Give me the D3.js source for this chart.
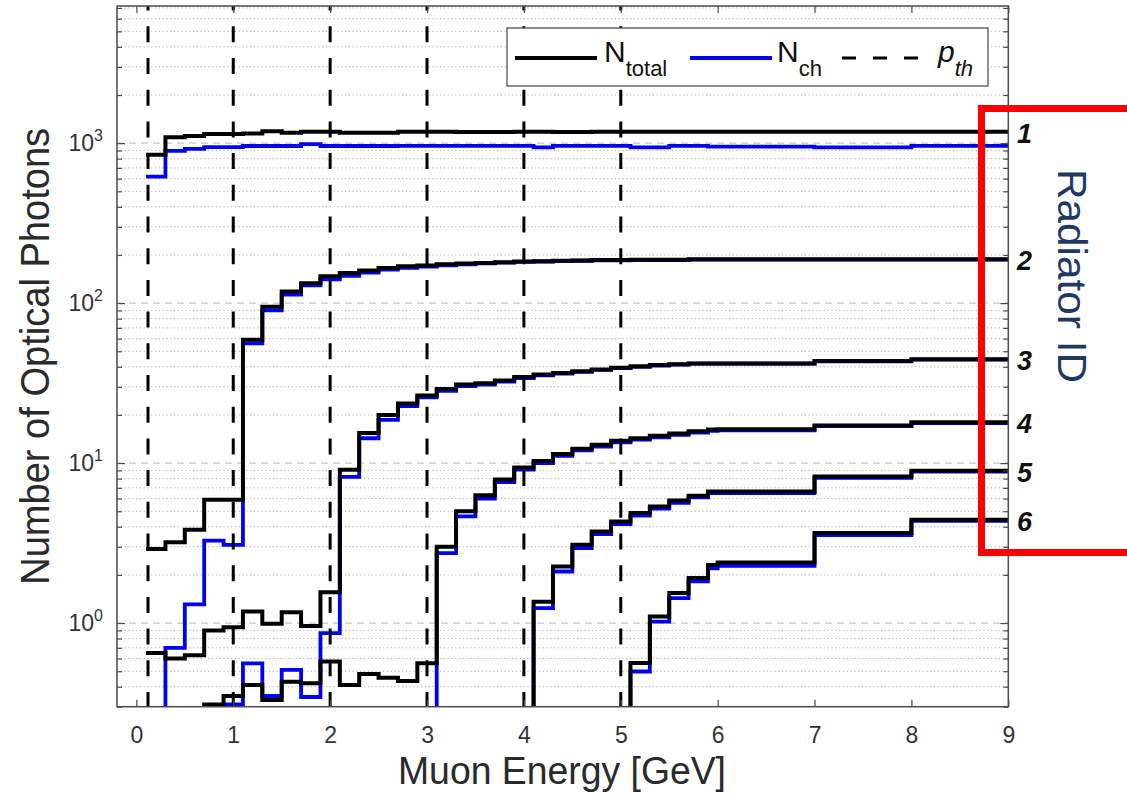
<!DOCTYPE html>
<html>
<head>
<meta charset="utf-8">
<script src="https://cdn.jsdelivr.net/npm/d3@7"></script>
<style>
  html, body { margin: 0; padding: 0; background: #fff; }
  svg { display: block; }
  text { font-family: "Liberation Sans", Arial, Helvetica, sans-serif; }
</style>
</head>
<body>
<svg id="chart" width="1127" height="802"></svg>
<script>
// Bin edges of the muon-energy scan [GeV]; each value holds from its edge to the next one.
const energyEdges = [0.1, 0.3, 0.5, 0.7, 0.9, 1.1, 1.3, 1.5, 1.7, 1.9, 2.1, 2.3, 2.5, 2.7, 2.9,
  3.1, 3.3, 3.5, 3.7, 3.9, 4.1, 4.3, 4.5, 4.7, 4.9, 5.1, 5.3, 5.5, 5.7, 5.9, 6, 7, 8, 9];

// Total optical photons per radiator (values below 0.3 sit under the axis).
const totalR1 = [845, 1090, 1110, 1140, 1140, 1150, 1185, 1160, 1180, 1180, 1160, 1160, 1160, 1180, 1180, 1180,
  1175, 1175, 1175, 1180, 1180, 1175, 1175, 1180, 1180, 1180, 1180, 1180, 1180, 1180, 1180, 1180, 1180];
const totalR2 = [2.9, 3.2, 3.83, 5.9, 5.9, 59, 95, 118, 133, 147, 154, 160, 166, 170, 172, 175,
  177, 178, 180, 182, 183, 184, 185, 186, 186, 187, 187, 187, 188, 188, 188, 188, 188];
const totalR3 = [0.65, 0.60, 0.63, 0.90, 0.94, 1.18, 0.99, 1.17, 0.96, 1.56, 9.1, 15.4, 20.0, 23.6, 26.5, 29.0,
  31.0, 31.5, 32.8, 34.5, 35.8, 36.6, 37.5, 38.5, 39.5, 40.3, 41.0, 41.5, 42.0, 42.0, 42.0, 43.5, 44.5];
const totalR4 = [0.2, 0.2, 0.2, 0.31, 0.35, 0.41, 0.33, 0.43, 0.42, 0.575, 0.41, 0.48, 0.455, 0.435, 0.56, 3.0,
  5.0, 6.3, 7.9, 9.4, 10.3, 11.4, 12.3, 13.0, 13.8, 14.3, 14.8, 15.3, 15.8, 16.2, 16.3, 17.2, 18.0];
const totalR5 = [0.2, 0.2, 0.2, 0.2, 0.2, 0.2, 0.2, 0.2, 0.2, 0.2, 0.2, 0.2, 0.2, 0.2, 0.2, 0.2,
  0.2, 0.2, 0.2, 0.2, 1.36, 2.26, 3.09, 3.74, 4.31, 4.87, 5.35, 5.83, 6.24, 6.64, 6.64, 8.25, 8.97];
const totalR6 = [0.2, 0.2, 0.2, 0.2, 0.2, 0.2, 0.2, 0.2, 0.2, 0.2, 0.2, 0.2, 0.2, 0.2, 0.2, 0.2,
  0.2, 0.2, 0.2, 0.2, 0.2, 0.2, 0.2, 0.2, 0.2, 0.562, 1.1, 1.54, 1.91, 2.31, 2.39, 3.65, 4.42];

// Cherenkov photons per radiator.
const chR1 = [618, 896, 920, 944, 944, 960, 960, 960, 985, 960, 960, 960, 960, 962, 962, 962,
  962, 962, 962, 962, 940, 962, 962, 962, 962, 940, 940, 962, 962, 950, 950, 940, 962];
const chR2 = [0.2, 0.70, 1.31, 3.28, 3.08, 56, 90, 113, 129, 141, 148, 155, 162, 166, 169, 172,
  175, 177, 179, 181, 182, 183, 184, 185, 185, 186, 186, 186, 187, 187, 187, 187, 187];
const chR3 = [0.2, 0.2, 0.2, 0.2, 0.31, 0.56, 0.35, 0.51, 0.345, 0.866, 8.2, 14.3, 18.6, 22.7, 25.8, 28.3,
  30.3, 31.0, 32.3, 34.0, 35.3, 36.2, 37.2, 38.2, 39.2, 40.0, 40.7, 41.2, 41.8, 41.8, 41.8, 43.3, 44.3];
const chR4 = [0.2, 0.2, 0.2, 0.2, 0.2, 0.2, 0.2, 0.2, 0.2, 0.2, 0.2, 0.2, 0.2, 0.2, 0.2, 2.74,
  4.64, 6.0, 7.6, 9.1, 10.0, 11.1, 12.0, 12.7, 13.5, 14.0, 14.5, 15.0, 15.5, 15.9, 16.0, 17.0, 17.8];
const chR5 = [0.2, 0.2, 0.2, 0.2, 0.2, 0.2, 0.2, 0.2, 0.2, 0.2, 0.2, 0.2, 0.2, 0.2, 0.2, 0.2,
  0.2, 0.2, 0.2, 0.2, 1.24, 2.1, 2.94, 3.6, 4.15, 4.7, 5.2, 5.65, 6.1, 6.5, 6.5, 8.1, 8.85];
const chR6 = [0.2, 0.2, 0.2, 0.2, 0.2, 0.2, 0.2, 0.2, 0.2, 0.2, 0.2, 0.2, 0.2, 0.2, 0.2, 0.2,
  0.2, 0.2, 0.2, 0.2, 0.2, 0.2, 0.2, 0.2, 0.2, 0.498, 1.02, 1.43, 1.82, 2.2, 2.28, 3.55, 4.35];

// Momentum thresholds of the six radiators [GeV].
const thresholds = [0.12, 1.0, 2.0, 3.0, 4.0, 5.0];
const radiatorIds = ["1", "2", "3", "4", "5", "6"];

const xTicks = [0, 1, 2, 3, 4, 5, 6, 7, 8, 9];
const yMajorTicks = [1, 10, 100, 1000];
const yMajorExponents = ["0", "1", "2", "3"];

const totals = [totalR1, totalR2, totalR3, totalR4, totalR5, totalR6];
const chs = [chR1, chR2, chR3, chR4, chR5, chR6];

const svg = d3.select("#chart");
const plot = { left: 117, right: 1008.3, top: 6, bottom: 706.7 };

const x = d3.scaleLinear().domain([-0.2, 9]).range([plot.left, plot.right]);
const y = d3.scaleLog().domain([0.3, 7200]).range([plot.bottom, plot.top]);

// minor decade ticks inside the y domain
const yMinorTicks = [];
[0.1, 1, 10, 100, 1000].forEach(d => {
  for (let k = 2; k <= 9; k++) {
    const v = d * k;
    if (v >= 0.3 && v <= 7200) yMinorTicks.push(v);
  }
});

svg.append("defs").append("clipPath").attr("id", "plotClip")
  .append("rect")
  .attr("x", plot.left).attr("y", plot.top)
  .attr("width", plot.right - plot.left).attr("height", plot.bottom - plot.top);

// grid
const grid = svg.append("g");
grid.selectAll("line.minor").data(yMinorTicks).join("line")
  .attr("class", "minor")
  .attr("x1", plot.left).attr("x2", plot.right)
  .attr("y1", d => y(d)).attr("y2", d => y(d))
  .attr("stroke", "#b0b0b0").attr("stroke-width", 1)
  .attr("stroke-dasharray", "1.2,2.6");
grid.selectAll("line.major").data(yMajorTicks).join("line")
  .attr("class", "major")
  .attr("x1", plot.left).attr("x2", plot.right)
  .attr("y1", d => y(d)).attr("y2", d => y(d))
  .attr("stroke", "#c6c6c6").attr("stroke-width", 1.2)
  .attr("stroke-dasharray", "7,5");

// step curves
const stepLine = d3.line()
  .x(d => x(d[0]))
  .y(d => y(d[1]))
  .curve(d3.curveStepAfter);

function stepPoints(vals) {
  return energyEdges.map((e, i) => [e, vals[Math.min(i, vals.length - 1)]]);
}

const curves = svg.append("g").attr("clip-path", "url(#plotClip)");
curves.selectAll("path.ch").data(chs).join("path")
  .attr("class", "ch")
  .attr("d", d => stepLine(stepPoints(d)))
  .attr("fill", "none").attr("stroke", "#0000f5").attr("stroke-width", 3.8)
  .attr("stroke-linejoin", "miter");
curves.selectAll("path.total").data(totals).join("path")
  .attr("class", "total")
  .attr("d", d => stepLine(stepPoints(d)))
  .attr("fill", "none").attr("stroke", "#000").attr("stroke-width", 4)
  .attr("stroke-linejoin", "miter");

// threshold markers
curves.selectAll("line.pth").data(thresholds).join("line")
  .attr("class", "pth")
  .attr("x1", d => x(d)).attr("x2", d => x(d))
  .attr("y1", plot.top).attr("y2", plot.bottom)
  .attr("stroke", "#000").attr("stroke-width", 3)
  .attr("stroke-dasharray", "16,15.7")
  .attr("stroke-dashoffset", 11.4);

// axes: inward ticks on all four sides
const axisColor = "#4a4a4a";
const xBottom = svg.append("g").attr("transform", `translate(0,${plot.bottom})`)
  .call(d3.axisBottom(x).tickValues(xTicks).tickSizeInner(-7).tickSizeOuter(0)
    .tickPadding(19.5).tickFormat(d3.format("d")));
const xTop = svg.append("g").attr("transform", `translate(0,${plot.top})`)
  .call(d3.axisTop(x).tickValues(xTicks).tickSizeInner(-7).tickSizeOuter(0).tickFormat(""));
const yLeft = svg.append("g").attr("transform", `translate(${plot.left},0)`)
  .call(d3.axisLeft(y).tickValues(yMajorTicks).tickSizeInner(-8).tickSizeOuter(0).tickFormat(""));
const yLeftMinor = svg.append("g").attr("transform", `translate(${plot.left},0)`)
  .call(d3.axisLeft(y).tickValues(yMinorTicks).tickSizeInner(-5).tickSizeOuter(0).tickFormat(""));
const yRight = svg.append("g").attr("transform", `translate(${plot.right},0)`)
  .call(d3.axisRight(y).tickValues(yMajorTicks).tickSizeInner(-8).tickSizeOuter(0).tickFormat(""));
const yRightMinor = svg.append("g").attr("transform", `translate(${plot.right},0)`)
  .call(d3.axisRight(y).tickValues(yMinorTicks).tickSizeInner(-5).tickSizeOuter(0).tickFormat(""));

[xBottom, xTop, yLeft, yLeftMinor, yRight, yRightMinor].forEach(g => {
  g.select(".domain").remove();
  g.selectAll(".tick line").attr("stroke", axisColor).attr("stroke-width", 1.2);
});
xBottom.selectAll(".tick text")
  .attr("fill", "#333").attr("font-size", 23)
  .attr("font-family", "Liberation Sans, Arial, sans-serif");

// y tick labels as powers of ten
const yLabels = svg.append("g");
yMajorTicks.forEach((v, i) => {
  const t = yLabels.append("text")
    .attr("x", 103).attr("y", y(v) + 8)
    .attr("text-anchor", "end")
    .attr("fill", "#333").attr("font-size", 23);
  t.append("tspan").text("10");
  t.append("tspan").attr("dy", -10).attr("font-size", 16).text(yMajorExponents[i]);
});

// frame
svg.append("rect")
  .attr("x", plot.left).attr("y", plot.top)
  .attr("width", plot.right - plot.left).attr("height", plot.bottom - plot.top)
  .attr("fill", "none").attr("stroke", axisColor).attr("stroke-width", 1.5);

// axis titles
svg.append("text")
  .attr("x", 562).attr("y", 784)
  .attr("text-anchor", "middle").attr("fill", "#2a2a2a")
  .attr("font-size", 39)
  .attr("textLength", 328).attr("lengthAdjust", "spacingAndGlyphs")
  .text("Muon Energy [GeV]");
svg.append("text")
  .attr("transform", `translate(49,${(plot.top + plot.bottom) / 2}) rotate(-90)`)
  .attr("text-anchor", "middle").attr("fill", "#2a2a2a")
  .attr("font-size", 40)
  .attr("textLength", 457).attr("lengthAdjust", "spacingAndGlyphs")
  .text("Number of Optical Photons");

// legend
const lg = svg.append("g");
lg.append("rect")
  .attr("x", 507).attr("y", 28).attr("width", 481).attr("height", 58)
  .attr("fill", "#fff").attr("stroke", "#444").attr("stroke-width", 1.2);
lg.append("line").attr("x1", 515).attr("x2", 597).attr("y1", 58).attr("y2", 58)
  .attr("stroke", "#000").attr("stroke-width", 4);
lg.append("line").attr("x1", 690).attr("x2", 772).attr("y1", 58).attr("y2", 58)
  .attr("stroke", "#0000f5").attr("stroke-width", 3.8);
lg.append("line").attr("x1", 842).attr("x2", 920).attr("y1", 58).attr("y2", 58)
  .attr("stroke", "#000").attr("stroke-width", 2.8).attr("stroke-dasharray", "14,17");

function legendLabel(xPos, main, sub, italic) {
  const t = lg.append("text").attr("x", xPos).attr("y", 62)
    .attr("fill", "#111").attr("font-size", 30)
    .attr("font-style", italic ? "italic" : "normal");
  t.append("tspan").text(main);
  t.append("tspan").attr("dy", 14).attr("font-size", 22).text(sub);
}
legendLabel(604, "N", "total", false);
legendLabel(777, "N", "ch", false);
legendLabel(938, "p", "th", true);

// radiator identifiers at the curve ends
svg.selectAll("text.rid").data(radiatorIds).join("text")
  .attr("class", "rid")
  .attr("x", 1017)
  .attr("y", (d, i) => y(totals[i][totals[i].length - 1]) + 2)
  .attr("dominant-baseline", "central")
  .attr("font-size", 27).attr("font-weight", "bold").attr("font-style", "italic")
  .attr("fill", "#111")
  .text(d => d);

// highlight box with caption
svg.append("rect")
  .attr("x", 981.5).attr("y", 108.5).attr("width", 200).attr("height", 444)
  .attr("fill", "none").attr("stroke", "#ff0000").attr("stroke-width", 7);
svg.append("text")
  .attr("transform", "translate(1072,276) rotate(90)")
  .attr("text-anchor", "middle").attr("dominant-baseline", "central")
  .attr("font-family", "Lato, 'Open Sans', sans-serif")
  .attr("font-size", 40).attr("fill", "#1f3864")
  .attr("textLength", 214).attr("lengthAdjust", "spacingAndGlyphs")
  .text("Radiator ID");
</script>
</body>
</html>
